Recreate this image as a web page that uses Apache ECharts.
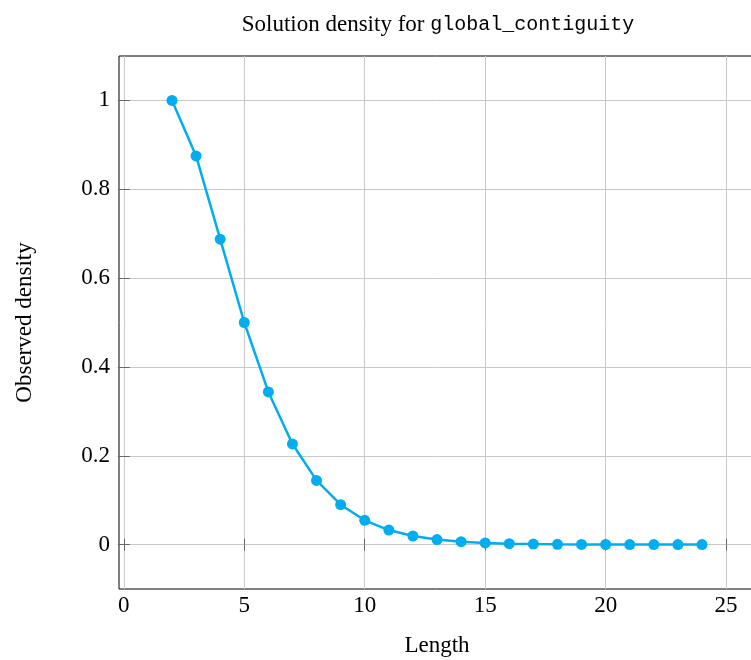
<!DOCTYPE html>
<html><head><meta charset="utf-8">
<script src="https://cdn.jsdelivr.net/npm/echarts@6/dist/echarts.min.js"></script>
<style>html,body{margin:0;padding:0;background:#fff}#c{width:751px;height:660px}</style>
</head><body><div id="c"></div>
<script>
const lengths = [2,3,4,5,6,7,8,9,10,11,12,13,14,15,16,17,18,19,20,21,22,23,24];
const density = [1, 0.875, 0.6875, 0.5, 0.34375, 0.2265625, 0.1445, 0.0898, 0.0547, 0.0327, 0.0193, 0.0112, 0.0065, 0.0037, 0.0021, 0.0012, 0.00066, 0.00036, 0.0002, 0.00011, 0.00006, 0.000033, 0.000018];
const xTicks = [0,5,10,15,20,25];
const yTicks = [0,0.2,0.4,0.6,0.8,1];
const titleMain = 'Solution density for ';
const titleCode = 'global_contiguity';

const chart = echarts.init(document.getElementById('c'));
const serif = 'Liberation Serif';
const tickFont = {fontFamily: serif, fontSize: 23, color: '#000'};
const tickStyle = {show: true, inside: true, length: 6, lineStyle: {color: '#666'}};
chart.setOption({
  animation: false,
  title: {
    text: '{a|' + titleMain + '}{b|' + titleCode + '}',
    left: 433, top: 8, textAlign: 'center',
    textStyle: {fontWeight: 'normal', rich: {
      a: {fontFamily: serif, fontSize: 23, color: '#000', fontWeight: 'normal'},
      b: {fontFamily: 'Liberation Mono', fontSize: 20, color: '#000', fontWeight: 'normal'}
    }}
  },
  grid: {left: 119, top: 56, width: 636, height: 533, show: true, borderColor: '#000', borderWidth: 1, containLabel: false, outerBoundsMode: 'none'},
  xAxis: [{
    type: 'value', min: -0.2, max: 26.2,
    name: 'Length', nameLocation: 'middle', nameGap: 45,
    nameTextStyle: {fontFamily: serif, fontSize: 23, color: '#000'},
    axisLine: {show: false},
    axisTick: {...tickStyle, customValues: xTicks},
    axisLabel: {customValues: xTicks, margin: 5, ...tickFont},
    splitLine: {show: true, lineStyle: {color: '#c8c8c8', width: 1}}
  }, {
    type: 'value', position: 'top', min: -0.2, max: 26.2,
    axisLine: {show: false},
    axisTick: {...tickStyle, customValues: xTicks},
    axisLabel: {show: false},
    splitLine: {show: false}
  }],
  yAxis: [{
    type: 'value', min: -0.1, max: 1.1,
    name: 'Observed density', nameLocation: 'middle', nameGap: 83, nameRotate: 90,
    nameTextStyle: {fontFamily: serif, fontSize: 23, color: '#000'},
    axisLine: {show: false},
    axisTick: {...tickStyle, customValues: yTicks},
    axisLabel: {customValues: yTicks, margin: 9, ...tickFont, formatter: v => String(+v.toFixed(1))},
    splitLine: {show: true, lineStyle: {color: '#c8c8c8', width: 1}}
  }, {
    type: 'value', position: 'right', min: -0.1, max: 1.1,
    axisLine: {show: false},
    axisTick: {...tickStyle, customValues: yTicks},
    axisLabel: {show: false},
    splitLine: {show: false}
  }],
  series: [{
    type: 'line',
    data: lengths.map((x, i) => [x, density[i]]),
    symbol: 'circle', symbolSize: 11,
    lineStyle: {color: '#00aeef', width: 2.5},
    itemStyle: {color: '#00aeef'},
    z: 5
  }]
});
</script></body></html>
